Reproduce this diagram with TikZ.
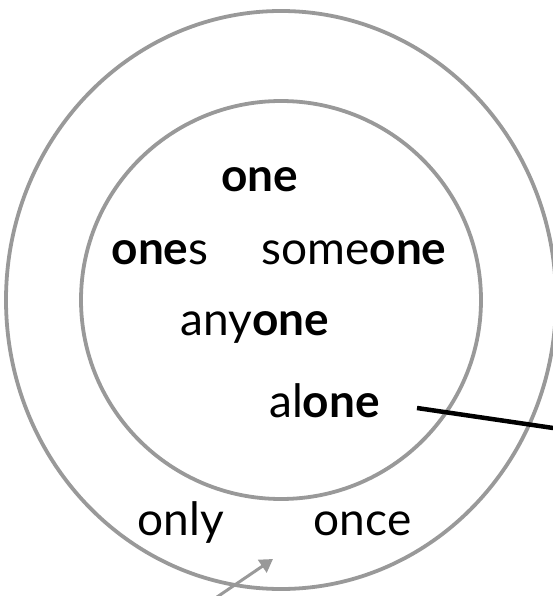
\documentclass[tikz,border=0pt]{standalone}
\usepackage{fontspec}
\setmainfont{Lato}
\usetikzlibrary{arrows.meta}
\definecolor{ringgray}{RGB}{153,153,153}
\begin{document}
\begin{tikzpicture}[x=1pt,y=-1pt,
  ring/.style={draw=ringgray, line width=3.8pt},
  word/.style={anchor=base, font=\fontsize{46}{48}\selectfont, inner sep=0pt, text=black},
  pointer/.style={draw=black, line width=4.5pt},
  grayarrow/.style={draw=ringgray, line width=3pt, -{Triangle[width=15pt,length=13pt]}}]
\useasboundingbox (0,0) rectangle (553,596);
\draw[ring] (281,300) ellipse [x radius=275, y radius=289];
\draw[ring] (281,300) ellipse [x radius=200, y radius=199];
\node[word] (one) at (259.5,191) {\textbf{one}};
\node[word] (ones) at (160,264) {\textbf{one}s};
\node[word] (someone) at (354,264) {some\textbf{one}};
\node[word] (anyone) at (255,335) {any\textbf{one}};
\node[word] (alone) at (324.5,417) {al\textbf{one}};
\node[word] (only) at (181,535) {only};
\node[word] (once) at (362.5,535) {once};
\coordinate (lineA) at (417,408);
\coordinate (lineB) at (560,429);
\draw[pointer] (lineA) -- (lineB);
\coordinate (arrA) at (217,597);
\coordinate (arrB) at (273,559);
\draw[grayarrow] (arrA) -- (arrB);
\end{tikzpicture}
\end{document}
